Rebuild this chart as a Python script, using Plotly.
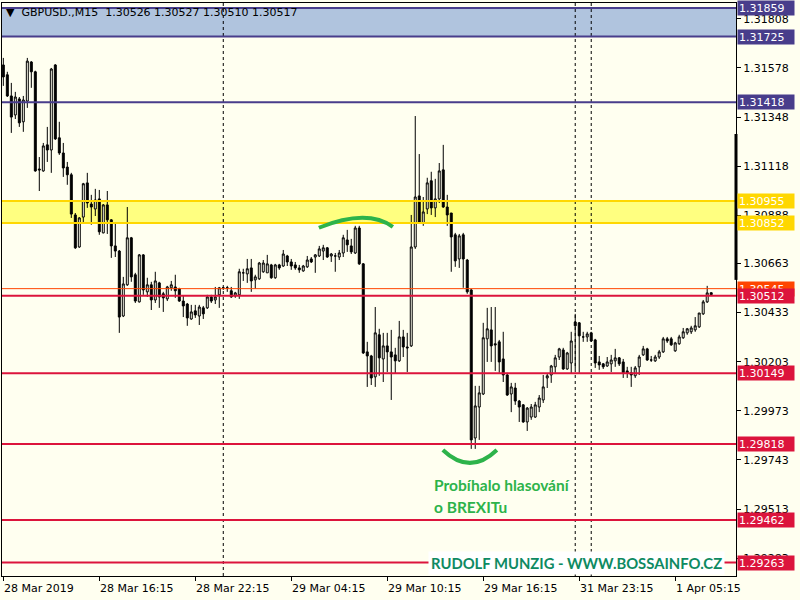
import plotly.graph_objects as go

# GBPUSD M15, bar index 0 = 28 Mar 10:15
opens = [
    1.31592, 1.31546, 1.31447, 1.31358, 1.31433, 1.31326, 1.31423, 1.31606, 1.31560, 1.31105,
    1.31096, 1.31218, 1.31194, 1.31592, 1.31251, 1.31180, 1.31114, 1.31078, 1.30890, 1.30740,
    1.30880, 1.31040, 1.30941, 1.30918, 1.30965, 1.30806, 1.30937, 1.30867, 1.30745, 1.30721,
    1.30417, 1.30563, 1.30783, 1.30610, 1.30483, 1.30703, 1.30530, 1.30563, 1.30492, 1.30572,
    1.30521, 1.30497, 1.30549, 1.30553, 1.30544, 1.30487, 1.30473, 1.30403, 1.30441, 1.30417,
    1.30455, 1.30455, 1.30506, 1.30492, 1.30516, 1.30549, 1.30549, 1.30535, 1.30511, 1.30516,
    1.30619, 1.30614, 1.30642, 1.30586, 1.30591, 1.30624, 1.30619, 1.30656, 1.30596, 1.30656,
    1.30651, 1.30698, 1.30670, 1.30656, 1.30642, 1.30628, 1.30647, 1.30684, 1.30693, 1.30698,
    1.30721, 1.30736, 1.30698, 1.30698, 1.30693, 1.30712, 1.30773, 1.30745, 1.30712, 1.30829,
    1.30661, 1.30249, 1.30230, 1.30132, 1.30329, 1.30216, 1.30277, 1.30249, 1.30235, 1.30207,
    1.30319, 1.30272, 1.30277, 1.30740, 1.30979, 1.30853, 1.30918, 1.31050, 1.30923, 1.30965,
    1.31101, 1.30927, 1.30899, 1.30797, 1.30684, 1.30797, 1.30679, 1.30539, 1.29846, 1.29991,
    1.30052, 1.30310, 1.30352, 1.30287, 1.30296, 1.30216, 1.30141, 1.30052, 1.30080, 1.30019,
    1.30001, 1.29921, 1.29944, 1.29944, 1.29991, 1.30024, 1.30127, 1.30141, 1.30179, 1.30225,
    1.30258, 1.30169, 1.30197, 1.30389, 1.30385, 1.30319, 1.30319, 1.30338, 1.30305, 1.30202,
    1.30193, 1.30183, 1.30193, 1.30207, 1.30221, 1.30202, 1.30160, 1.30151, 1.30137, 1.30179,
    1.30235, 1.30263, 1.30211, 1.30207, 1.30225, 1.30249, 1.30310, 1.30310, 1.30254, 1.30287,
    1.30315, 1.30338, 1.30343, 1.30352, 1.30366, 1.30427, 1.30483, 1.30526,
]
highs = [
    1.31625, 1.31560, 1.31508, 1.31466, 1.31442, 1.31447, 1.31625, 1.31610, 1.31565, 1.31161,
    1.31227, 1.31302, 1.31578, 1.31596, 1.31326, 1.31227, 1.31138, 1.31087, 1.30899, 1.30880,
    1.31040, 1.31087, 1.30984, 1.31012, 1.31007, 1.30941, 1.31002, 1.30871, 1.30853, 1.30726,
    1.30600, 1.30927, 1.30787, 1.30619, 1.30707, 1.30707, 1.30596, 1.30577, 1.30624, 1.30577,
    1.30530, 1.30558, 1.30581, 1.30610, 1.30549, 1.30511, 1.30478, 1.30469, 1.30469, 1.30469,
    1.30464, 1.30516, 1.30516, 1.30553, 1.30553, 1.30553, 1.30558, 1.30553, 1.30530, 1.30638,
    1.30638, 1.30684, 1.30684, 1.30610, 1.30670, 1.30679, 1.30703, 1.30661, 1.30661, 1.30661,
    1.30726, 1.30703, 1.30684, 1.30670, 1.30656, 1.30656, 1.30698, 1.30693, 1.30707, 1.30745,
    1.30750, 1.30740, 1.30712, 1.30712, 1.30726, 1.30797, 1.30820, 1.30778, 1.30839, 1.30839,
    1.30665, 1.30296, 1.30235, 1.30459, 1.30357, 1.30338, 1.30338, 1.30352, 1.30268, 1.30394,
    1.30352, 1.30338, 1.30890, 1.31353, 1.31175, 1.30974, 1.31064, 1.31092, 1.31059, 1.31133,
    1.31218, 1.30984, 1.30899, 1.30806, 1.30801, 1.30806, 1.30684, 1.30544, 1.30090, 1.30090,
    1.30385, 1.30455, 1.30459, 1.30459, 1.30305, 1.30343, 1.30151, 1.30104, 1.30104, 1.30024,
    1.30005, 1.29991, 1.30005, 1.30015, 1.30047, 1.30141, 1.30146, 1.30188, 1.30235, 1.30268,
    1.30268, 1.30249, 1.30343, 1.30427, 1.30389, 1.30343, 1.30343, 1.30343, 1.30310, 1.30230,
    1.30197, 1.30225, 1.30235, 1.30263, 1.30225, 1.30216, 1.30179, 1.30179, 1.30183, 1.30235,
    1.30277, 1.30268, 1.30230, 1.30235, 1.30258, 1.30319, 1.30319, 1.30319, 1.30296, 1.30329,
    1.30361, 1.30361, 1.30371, 1.30412, 1.30431, 1.30492, 1.30558, 1.30527,
]
lows = [
    1.31494, 1.31442, 1.31274, 1.31339, 1.31302, 1.31279, 1.31391, 1.31485, 1.31092, 1.31002,
    1.31092, 1.31138, 1.31087, 1.31241, 1.31171, 1.31068, 1.31031, 1.30876, 1.30731, 1.30736,
    1.30848, 1.30923, 1.30844, 1.30885, 1.30797, 1.30804, 1.30801, 1.30689, 1.30693, 1.30338,
    1.30412, 1.30558, 1.30577, 1.30478, 1.30480, 1.30516, 1.30506, 1.30445, 1.30478, 1.30455,
    1.30436, 1.30487, 1.30535, 1.30502, 1.30483, 1.30412, 1.30371, 1.30399, 1.30408, 1.30375,
    1.30403, 1.30450, 1.30478, 1.30473, 1.30455, 1.30539, 1.30530, 1.30502, 1.30502, 1.30497,
    1.30581, 1.30572, 1.30530, 1.30544, 1.30586, 1.30619, 1.30619, 1.30591, 1.30591, 1.30633,
    1.30647, 1.30651, 1.30633, 1.30633, 1.30619, 1.30624, 1.30642, 1.30665, 1.30619, 1.30693,
    1.30679, 1.30689, 1.30670, 1.30624, 1.30679, 1.30693, 1.30717, 1.30707, 1.30707, 1.30656,
    1.30239, 1.30085, 1.30094, 1.30085, 1.30137, 1.30108, 1.30155, 1.30024, 1.30146, 1.30202,
    1.30225, 1.30155, 1.30272, 1.30731, 1.30848, 1.30839, 1.30894, 1.30890, 1.30880, 1.30946,
    1.30923, 1.30839, 1.30624, 1.30647, 1.30642, 1.30549, 1.30521, 1.29795, 1.29795, 1.29837,
    1.30047, 1.30202, 1.30202, 1.30160, 1.30151, 1.30108, 1.30043, 1.29967, 1.30001, 1.29921,
    1.29917, 1.29879, 1.29931, 1.29940, 1.29967, 1.30010, 1.30080, 1.30104, 1.30151, 1.30211,
    1.30165, 1.30165, 1.30146, 1.30169, 1.30151, 1.30296, 1.30296, 1.30296, 1.30174, 1.30165,
    1.30169, 1.30179, 1.30155, 1.30179, 1.30183, 1.30127, 1.30127, 1.30085, 1.30127, 1.30141,
    1.30230, 1.30207, 1.30202, 1.30202, 1.30216, 1.30244, 1.30291, 1.30277, 1.30249, 1.30282,
    1.30310, 1.30329, 1.30333, 1.30343, 1.30361, 1.30422, 1.30478, 1.30510,
]
closes = [
    1.31536, 1.31447, 1.31348, 1.31442, 1.31321, 1.31428, 1.31610, 1.31560, 1.31096, 1.31101,
    1.31213, 1.31194, 1.31573, 1.31246, 1.31180, 1.31110, 1.31078, 1.30894, 1.30736, 1.30876,
    1.31036, 1.30946, 1.30927, 1.30960, 1.30811, 1.30937, 1.30867, 1.30745, 1.30721, 1.30412,
    1.30567, 1.30783, 1.30600, 1.30487, 1.30703, 1.30539, 1.30563, 1.30492, 1.30581, 1.30506,
    1.30502, 1.30553, 1.30563, 1.30535, 1.30487, 1.30464, 1.30408, 1.30436, 1.30422, 1.30459,
    1.30427, 1.30506, 1.30487, 1.30506, 1.30549, 1.30549, 1.30549, 1.30506, 1.30525, 1.30624,
    1.30619, 1.30638, 1.30581, 1.30600, 1.30665, 1.30665, 1.30661, 1.30596, 1.30656, 1.30642,
    1.30707, 1.30670, 1.30651, 1.30642, 1.30633, 1.30651, 1.30679, 1.30670, 1.30703, 1.30731,
    1.30736, 1.30693, 1.30707, 1.30698, 1.30712, 1.30783, 1.30750, 1.30717, 1.30829, 1.30661,
    1.30244, 1.30230, 1.30127, 1.30338, 1.30221, 1.30277, 1.30249, 1.30225, 1.30207, 1.30319,
    1.30272, 1.30268, 1.30740, 1.30974, 1.30853, 1.30904, 1.31040, 1.30923, 1.30965, 1.31096,
    1.30927, 1.30890, 1.30787, 1.30675, 1.30792, 1.30684, 1.30530, 1.29837, 1.29996, 1.30057,
    1.30315, 1.30357, 1.30277, 1.30282, 1.30202, 1.30141, 1.30047, 1.30085, 1.30019, 1.29991,
    1.29921, 1.29986, 1.29991, 1.30001, 1.30033, 1.30085, 1.30137, 1.30183, 1.30221, 1.30263,
    1.30169, 1.30244, 1.30300, 1.30371, 1.30324, 1.30319, 1.30333, 1.30300, 1.30197, 1.30188,
    1.30179, 1.30202, 1.30211, 1.30221, 1.30193, 1.30151, 1.30151, 1.30141, 1.30174, 1.30225,
    1.30263, 1.30211, 1.30211, 1.30225, 1.30249, 1.30310, 1.30300, 1.30282, 1.30291, 1.30319,
    1.30343, 1.30357, 1.30361, 1.30371, 1.30431, 1.30483, 1.30525, 1.30517,
]
bars = list(range(len(closes)))

time_tick_bars = [0, 24, 48, 72, 96, 120, 144, 168]
time_tick_labels = ["28 Mar 2019", "28 Mar 16:15", "28 Mar 22:15", "29 Mar 04:15",
                    "29 Mar 10:15", "29 Mar 16:15", "31 Mar 23:15", "1 Apr 05:15"]
day_separators = [55, 143, 147]

price_ticks = [1.31808, 1.31578, 1.31348, 1.31118, 1.30888, 1.30663,
               1.30433, 1.30203, 1.29973, 1.29743, 1.29513, 1.29283]

blue_levels = [1.31859, 1.31725, 1.31418]
gold_levels = [1.30955, 1.30852]
orange_levels = [1.30545]
red_levels = [1.30512, 1.30149, 1.29818, 1.29462, 1.29263]

BG = "#FFFFF0"
BLUE = "#483D8B"
GOLD = "#FFD700"
ORANGE = "#FF4500"
RED = "#DC143C"
GREEN = "#2DB34A"
TEAL = "#0E8A62"
FONT = "DejaVu Sans"

fig = go.Figure(go.Candlestick(
    x=bars, open=opens, high=highs, low=lows, close=closes,
    increasing=dict(line=dict(color="black", width=1), fillcolor=BG),
    decreasing=dict(line=dict(color="black", width=1), fillcolor="black"),
    whiskerwidth=0, hoverinfo="skip", showlegend=False,
))

shapes = []
# shaded zones
shapes.append(dict(type="rect", xref="paper", x0=0, x1=1, yref="y",
                   y0=blue_levels[1], y1=blue_levels[0], fillcolor="#B0C4DE",
                   line_width=0, layer="below"))
shapes.append(dict(type="rect", xref="paper", x0=0, x1=1, yref="y",
                   y0=gold_levels[1], y1=gold_levels[0], fillcolor="#FFFF80",
                   line_width=0, layer="below"))

# day separators
for b in day_separators:
    shapes.append(dict(type="line", xref="x", x0=b, x1=b, yref="paper", y0=0, y1=1,
                       line=dict(color="black", width=1, dash="3px,3px")))

def level_lines(levels, color, width):
    for lv in levels:
        shapes.append(dict(type="line", xref="paper", x0=0, x1=1, yref="y", y0=lv, y1=lv,
                           line=dict(color=color, width=width)))

level_lines(blue_levels, BLUE, 2)
level_lines(gold_levels, GOLD, 2)
level_lines(orange_levels, ORANGE, 1)
level_lines(red_levels, RED, 2)

# hand drawn arcs
shapes.append(dict(type="path", xref="x", yref="y",
                   path="M 78.9,1.30830 Q 91.0,1.30921 97.4,1.30834",
                   line=dict(color=GREEN, width=4)))
shapes.append(dict(type="path", xref="x", yref="y",
                   path="M 109.9,1.29790 Q 116.7,1.29669 123.4,1.29790",
                   line=dict(color=GREEN, width=4)))
# black marker at right edge
shapes.append(dict(type="line", xref="paper", x0=1, x1=1, yref="y",
                   y0=1.30586, y1=1.31269, line=dict(color="black", width=3)))

annotations = []

def price_label(lv, color):
    annotations.append(dict(xref="paper", x=1, xanchor="left", xshift=1,
                            yref="y", y=lv, yanchor="middle",
                            text=f"{lv:.5f}", showarrow=False, align="left",
                            font=dict(family=FONT, size=11, color="white"),
                            bgcolor=color, width=54, height=12, borderpad=1))

for lv in blue_levels:
    price_label(lv, BLUE)
for lv in gold_levels:
    price_label(lv, GOLD)
for lv in orange_levels:
    price_label(lv, ORANGE)
for lv in red_levels:
    price_label(lv, RED)

for b, t in zip(time_tick_bars, time_tick_labels):
    annotations.append(dict(xref="x", x=b, xanchor="left", xshift=-1,
                            yref="paper", y=0, yanchor="top", yshift=-4,
                            text=t, showarrow=False,
                            font=dict(family=FONT, size=11, color="black")))

annotations.append(dict(xref="paper", x=0, xanchor="left", xshift=2,
                        yref="paper", y=1, yanchor="top", yshift=-1,
                        text="▼  GBPUSD.,M15  1.30526 1.30527 1.30510 1.30517",
                        showarrow=False, font=dict(family=FONT, size=11, color="black")))

annotations.append(dict(xref="x", x=107.2, xanchor="left", yref="y", y=1.29626,
                        yanchor="middle", text="<b>Probíhalo hlasování</b>", showarrow=False,
                        font=dict(family="Lato", size=15.5, color=GREEN)))
annotations.append(dict(xref="x", x=107.2, xanchor="left", yref="y", y=1.29523,
                        yanchor="middle", text="<b>o BREXITu</b>", showarrow=False,
                        font=dict(family="Lato", size=15.5, color=GREEN)))
annotations.append(dict(xref="x", x=106.2, xanchor="left", yref="y", y=1.29263,
                        yanchor="middle", text="<b>RUDOLF MUNZIG - WWW.BOSSAINFO.CZ</b>",
                        showarrow=False, bgcolor="white", borderpad=2,
                        font=dict(family="Lato", size=14.8, color=TEAL)))

fig.update_layout(
    width=800, height=600,
    margin=dict(l=2, r=64, t=3, b=24),
    paper_bgcolor=BG, plot_bgcolor=BG,
    shapes=shapes, annotations=annotations,
    showlegend=False, hovermode=False,
    xaxis=dict(range=[-0.33, 183.2], rangeslider=dict(visible=False),
               tickvals=time_tick_bars, showticklabels=False,
               ticks="outside", ticklen=4, tickcolor="black",
               showgrid=False, zeroline=False,
               showline=True, linecolor="black", linewidth=1, mirror=True),
    yaxis=dict(range=[1.29200, 1.31882], side="right",
               tickvals=price_ticks, ticktext=[f"{v:.5f}" for v in price_ticks],
               ticks="outside", ticklen=4, tickcolor="black",
               tickfont=dict(family=FONT, size=11, color="black"),
               showgrid=False, zeroline=False,
               showline=True, linecolor="black", linewidth=1, mirror=True),
)

fig.write_html("out.html", config={"staticPlot": True},
               post_script="document.body.style.margin='0px';")
